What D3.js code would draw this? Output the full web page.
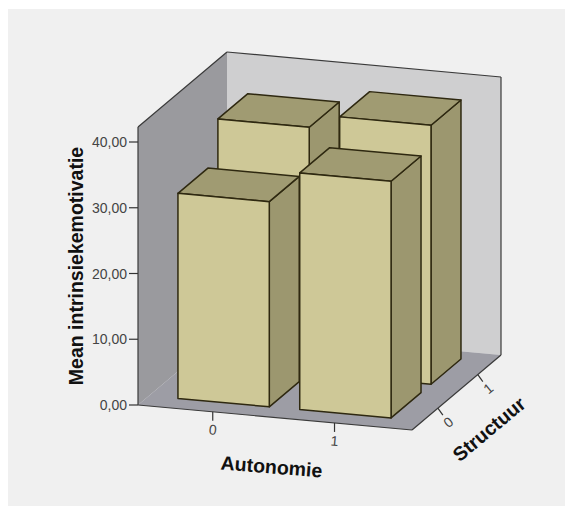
<!DOCTYPE html>
<html>
<head>
<meta charset="utf-8">
<script src="https://cdn.jsdelivr.net/npm/d3@7"></script>
<style>
html,body{margin:0;padding:0;background:#fff;}
svg{display:block;}
text{font-family:"Liberation Sans",Arial,sans-serif;}
</style>
</head>
<body>
<svg id="c" width="573" height="506"></svg>
<script>
const autonomie = ["0","1"];
const structuur = ["0","1"];
const meanS0 = [31.2, 36.0];
const meanS1 = [37.4, 39.4];
const yTicks = [0,10,20,30,40];
const yTickLabels = ["0,00","10,00","20,00","30,00","40,00"];
const colFront="#cec897", colTop="#a09b72", colSide="#9c976f", edge="#2e2810";

const svg=d3.select("#c");
svg.append("rect").attr("x",8).attr("y",9).attr("width",557).attr("height",497).attr("fill","#f0f0f0");

const xS=d3.scaleLinear().domain([0,1]).range([0,1]);
const yS=d3.scaleLinear().domain([0,40]).range([0,263]);
const P=(a,s,v)=>[138+274*xS(a)+89*s,405+25*xS(a)-75*s-yS(v)];
const yMax=yS.invert(278);
const aBand=d3.scaleBand().domain(autonomie).range([-0.005,0.995]).paddingInner(0.25).paddingOuter(0.25);
const sBand=d3.scaleBand().domain(structuur).range([0.01,1.02]).paddingInner(0.25).paddingOuter(0.25);

const line=pts=>"M"+pts.map(p=>p.join(",")).join("L")+"Z";
const poly=(pts,fill,stroke,sw)=>svg.append("path").attr("d",line(pts)).attr("fill",fill)
  .attr("stroke",stroke||"none").attr("stroke-width",sw||0).attr("stroke-linejoin","round");
const seg=(a,b,stroke,sw)=>svg.append("line").attr("x1",a[0]).attr("y1",a[1]).attr("x2",b[0]).attr("y2",b[1]).attr("stroke",stroke).attr("stroke-width",sw);

// walls and floor
poly([P(0,1,0),P(1,1,0),P(1,1,yMax),P(0,1,yMax)],"#cfcfd0");
poly([P(0,0,0),P(0,1,0),P(0,1,yMax),P(0,0,yMax)],"#9a9a9e");
poly([P(0,0,0),P(1,0,0),P(1,1,0),P(0,1,0)],"#9d9da5");
const wallEdge="#3a3a3a";
seg(P(0,0,0),P(0,0,yMax),wallEdge,1.2);
seg(P(0,0,yMax),P(0,1,yMax),wallEdge,1.2);
seg(P(0,1,yMax),P(1,1,yMax),wallEdge,1.2);
seg(P(1,1,yMax),P(1,1,0),wallEdge,1.2);
seg(P(1,1,0),P(1,0,0),wallEdge,1.2);
seg(P(1,0,0),P(0,0,0),wallEdge,1.2);

// y axis
yTicks.forEach((t,i)=>{
  const p=P(0,0,t);
  seg([p[0]-9,p[1]],p,"#333",1.2);
  svg.append("text").attr("x",p[0]-11).attr("y",p[1]+5).attr("text-anchor","end")
    .attr("font-size",14).attr("fill","#444").text(yTickLabels[i]);
});
// x axis
autonomie.forEach(c=>{
  const a=aBand(c)+aBand.bandwidth()/2, p=P(a,0,0);
  seg(p,[p[0],p[1]+9],"#333",1.2);
  svg.append("text").attr("transform",`translate(${p[0]},${p[1]+18}) rotate(5)`).attr("text-anchor","middle")
    .attr("dy","0.35em").attr("font-size",14).attr("fill","#444").text(c);
});
// depth axis
structuur.forEach(c=>{
  const s=sBand(c)+sBand.bandwidth()/2, p=P(1,s,0);
  seg(p,[p[0]+5,p[1]+7],"#333",1.2);
  svg.append("text").attr("transform",`translate(${p[0]+10.5},${p[1]+14}) rotate(-40)`)
    .attr("text-anchor","middle").attr("dy","0.35em")
    .attr("font-size",14).attr("fill","#444").text(c);
});
// bars, back to front
function bar(c,t,v){
  const a0=aBand(c),a1=a0+aBand.bandwidth(),s0=sBand(t),s1=s0+sBand.bandwidth();
  poly([P(a1,s0,0),P(a1,s1,0),P(a1,s1,v),P(a1,s0,v)],colSide,edge,1.5);
  poly([P(a0,s0,v),P(a1,s0,v),P(a1,s1,v),P(a0,s1,v)],colTop,edge,1.5);
  poly([P(a0,s0,0),P(a1,s0,0),P(a1,s0,v),P(a0,s0,v)],colFront,edge,1.5);
}
autonomie.forEach((c,i)=>bar(c,"1",meanS1[i]));
autonomie.forEach((c,i)=>bar(c,"0",meanS0[i]));

// titles
svg.append("text").attr("transform","translate(83,266) rotate(-90)").attr("text-anchor","middle")
  .attr("font-size",19.5).attr("font-weight","bold").attr("fill","#111").text("Mean intrinsiekemotivatie");
svg.append("text").attr("transform","translate(271,473.5) rotate(4.5)").attr("text-anchor","middle")
  .attr("font-size",19.5).attr("font-weight","bold").attr("fill","#111").text("Autonomie");
svg.append("text").attr("transform","translate(489,429) rotate(-40)").attr("text-anchor","middle").attr("dy","0.35em")
  .attr("font-size",19.5).attr("font-weight","bold").attr("fill","#111").text("Structuur");
</script>
</body>
</html>
